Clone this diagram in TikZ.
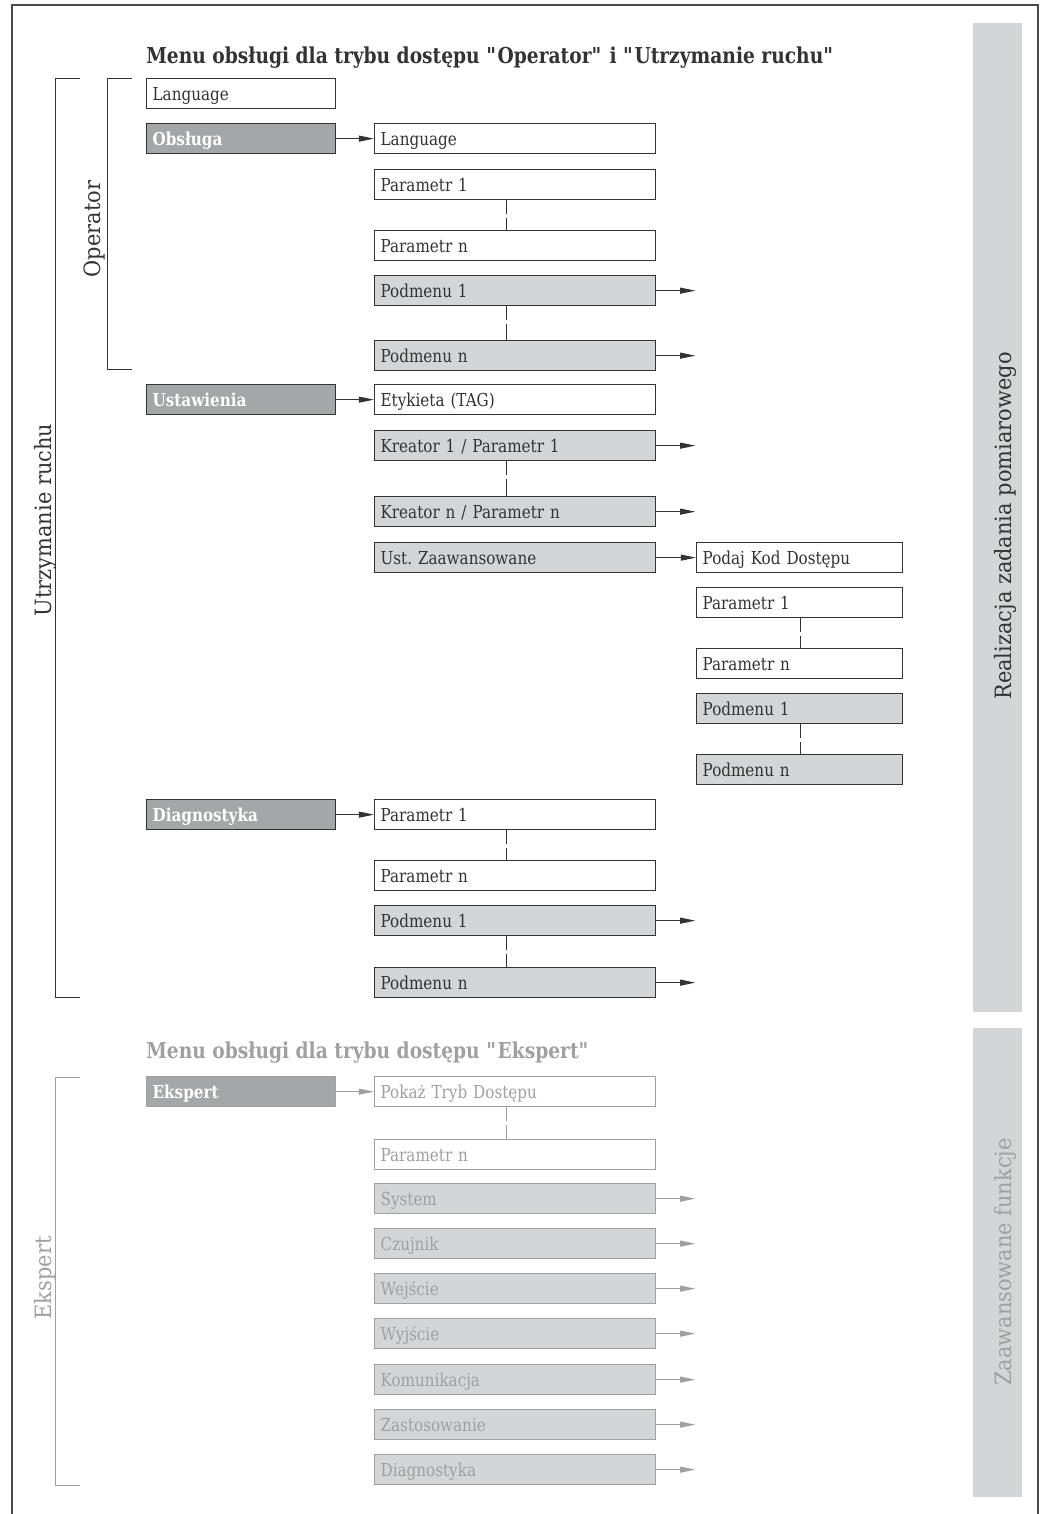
\documentclass[tikz,border=0pt]{standalone}
\usepackage{fontspec}
\setmainfont{DejaVu Serif}[FakeStretch=0.85]
\newfontfamily\barfont{DejaVu Serif}[FakeStretch=0.93]
\usetikzlibrary{arrows.meta,calc}
\frenchspacing

\definecolor{rimgray}{HTML}{4A4A4A}
\definecolor{inkgray}{HTML}{333333}
\definecolor{menufill}{HTML}{A5A6A7}
\definecolor{subfill}{HTML}{D4D5D6}
\definecolor{palegray}{HTML}{A0A0A0}

% straight double quote, kept out of the tex-text mapping
\newcommand\straightquote{\XeTeXglyph\XeTeXcharglyph"22\relax}

\begin{document}
\begin{tikzpicture}[x=0.025cm, y=-0.025cm,
  every node/.style={inner sep=0pt, text=inkgray},
  item/.style={draw=inkgray, line width=0.9pt, anchor=north west, minimum height=0.75cm,
    inner xsep=0.15cm, align=left, text height=9.3pt, text depth=0pt,
    font=\fontsize{12.7}{15}\selectfont},
  colA/.style={item, text width=4.425cm},
  colB/.style={item, text width=6.725cm},
  colC/.style={item, text width=4.85cm},
  plain/.style={fill=white},
  sub/.style={fill=subfill},
  menu/.style={fill=menufill, text=white, font=\fontsize{12.7}{15}\selectfont\bfseries},
  faded/.style={draw=palegray, text=palegray},
  go/.style={-{Triangle[length=0.38cm, width=0.15cm]}, line width=0.7pt, draw=inkgray, fill=inkgray},
  gap/.style={line width=0.7pt, draw=inkgray, dash pattern=on 10pt off 2.6pt on 40pt off 1pt},
  brace/.style={line width=0.6pt, draw=inkgray},
  side/.style={rotate=90, font=\barfont\fontsize{16}{19}\selectfont, text height=11.6pt, text depth=0pt},
  headline/.style={anchor=west, font=\fontsize{15.6}{19}\selectfont\bfseries, text height=11.4pt, text depth=0pt}]

\useasboundingbox (0,0) rectangle (1040,1514);
\draw[rimgray, line width=1.5pt] (12,1514) -- (12,5) -- (1038,5) -- (1038,1514);

% side bars
\fill[subfill] (973,23) rectangle (1022,1012);
\fill[subfill] (973,1028) rectangle (1022,1497);
\node[side] (task) at (1003,526) {Realizacja zadania pomiarowego};
\node[side, text=palegray] (extra) at (1003,1262) {Zaawansowane funkcje};

% titles
\node[headline] (opTitle) at (146,55) {Menu obsługi dla trybu dostępu \straightquote Operator\straightquote{} i \straightquote Utrzymanie ruchu\straightquote};
\node[headline, text=palegray] (exTitle) at (146,1050) {Menu obsługi dla trybu dostępu \straightquote Ekspert\straightquote};

% brackets
\draw[brace] (80,78) -- (55,78) -- (55,997) -- (80,997);
\draw[brace] (132,78) -- (107,78) -- (107,369) -- (132,369);
\draw[brace, draw=palegray] (80,1077) -- (55,1077) -- (55,1485) -- (80,1485);
\node[side] (maint) at (43,520) {Utrzymanie ruchu};
\node[side] (oper) at (92,229) {Operator};
\node[side, text=palegray] (expert) at (43,1278) {Ekspert};

% main menu
\node[colA, plain] (lang) at (146,78) {Language};
\node[colA, menu] (obs) at (146,123) {Obsługa};
\node[colA, menu] (ust) at (146,384) {Ustawienia};
\node[colA, menu] (diag) at (146,799) {Diagnostyka};
\node[colA, menu, draw=palegray] (eksp) at (146,1076) {Ekspert};

% Obsluga
\node[colB, plain] (oLang) at (374,123) {Language};
\node[colB, plain] (oPar1) at (374,169) {Parametr 1};
\node[colB, plain] (oParN) at (374,230) {Parametr n};
\node[colB, sub] (oSub1) at (374,275) {Podmenu 1};
\node[colB, sub] (oSubN) at (374,340) {Podmenu n};

% Ustawienia
\node[colB, plain] (uTag) at (374,384) {Etykieta (TAG)};
\node[colB, sub] (uKr1) at (374,430) {Kreator 1 / Parametr 1};
\node[colB, sub] (uKrN) at (374,496) {Kreator n / Parametr n};
\node[colB, sub] (uAdv) at (374,542) {Ust. Zaawansowane};

\node[colC, plain] (aKod) at (696,542) {Podaj Kod Dostępu};
\node[colC, plain] (aPar1) at (696,587) {Parametr 1};
\node[colC, plain] (aParN) at (696,648) {Parametr n};
\node[colC, sub] (aSub1) at (696,693) {Podmenu 1};
\node[colC, sub] (aSubN) at (696,754) {Podmenu n};

% Diagnostyka
\node[colB, plain] (dPar1) at (374,799) {Parametr 1};
\node[colB, plain] (dParN) at (374,860) {Parametr n};
\node[colB, sub] (dSub1) at (374,905) {Podmenu 1};
\node[colB, sub] (dSubN) at (374,967) {Podmenu n};

% Ekspert
\node[colB, plain, faded] (ePok) at (374,1076) {Pokaż Tryb Dostępu};
\node[colB, plain, faded] (eParN) at (374,1139) {Parametr n};
\node[colB, sub, faded] (eSys) at (374,1183) {System};
\node[colB, sub, faded] (eCzu) at (374,1228) {Czujnik};
\node[colB, sub, faded] (eWej) at (374,1273) {Wejście};
\node[colB, sub, faded] (eWyj) at (374,1318) {Wyjście};
\node[colB, sub, faded] (eKom) at (374,1364) {Komunikacja};
\node[colB, sub, faded] (eZas) at (374,1409) {Zastosowanie};
\node[colB, sub, faded] (eDia) at (374,1454) {Diagnostyka};

% arrows
\draw[go] (obs) -- (oLang);
\draw[go] (ust) -- (uTag);
\draw[go] (diag) -- (dPar1);
\draw[go] (uAdv) -- (aKod);
\draw[go, draw=palegray, fill=palegray] (eksp) -- (ePok);
\foreach \n in {oSub1,oSubN,uKr1,uKrN,dSub1,dSubN}
  \draw[go] (\n.east) -- ++(39,0);
\foreach \n in {eSys,eCzu,eWej,eWyj,eKom,eZas,eDia}
  \draw[go, draw=palegray, fill=palegray] (\n.east) -- ++(39,0);

% continuation lines
\foreach \a/\b in {oPar1/oParN,oSub1/oSubN,uKr1/uKrN,dPar1/dParN,dSub1/dSubN}
  \draw[gap] ($(\a.south west)+(132,0)$) -- ($(\b.north west)+(132,0)$);
\draw[gap, draw=palegray] ($(ePok.south west)+(132,0)$) -- ($(eParN.north west)+(132,0)$);
\foreach \a/\b in {aPar1/aParN,aSub1/aSubN}
  \draw[gap] ($(\a.south west)+(104,0)$) -- ($(\b.north west)+(104,0)$);
\end{tikzpicture}
\end{document}
